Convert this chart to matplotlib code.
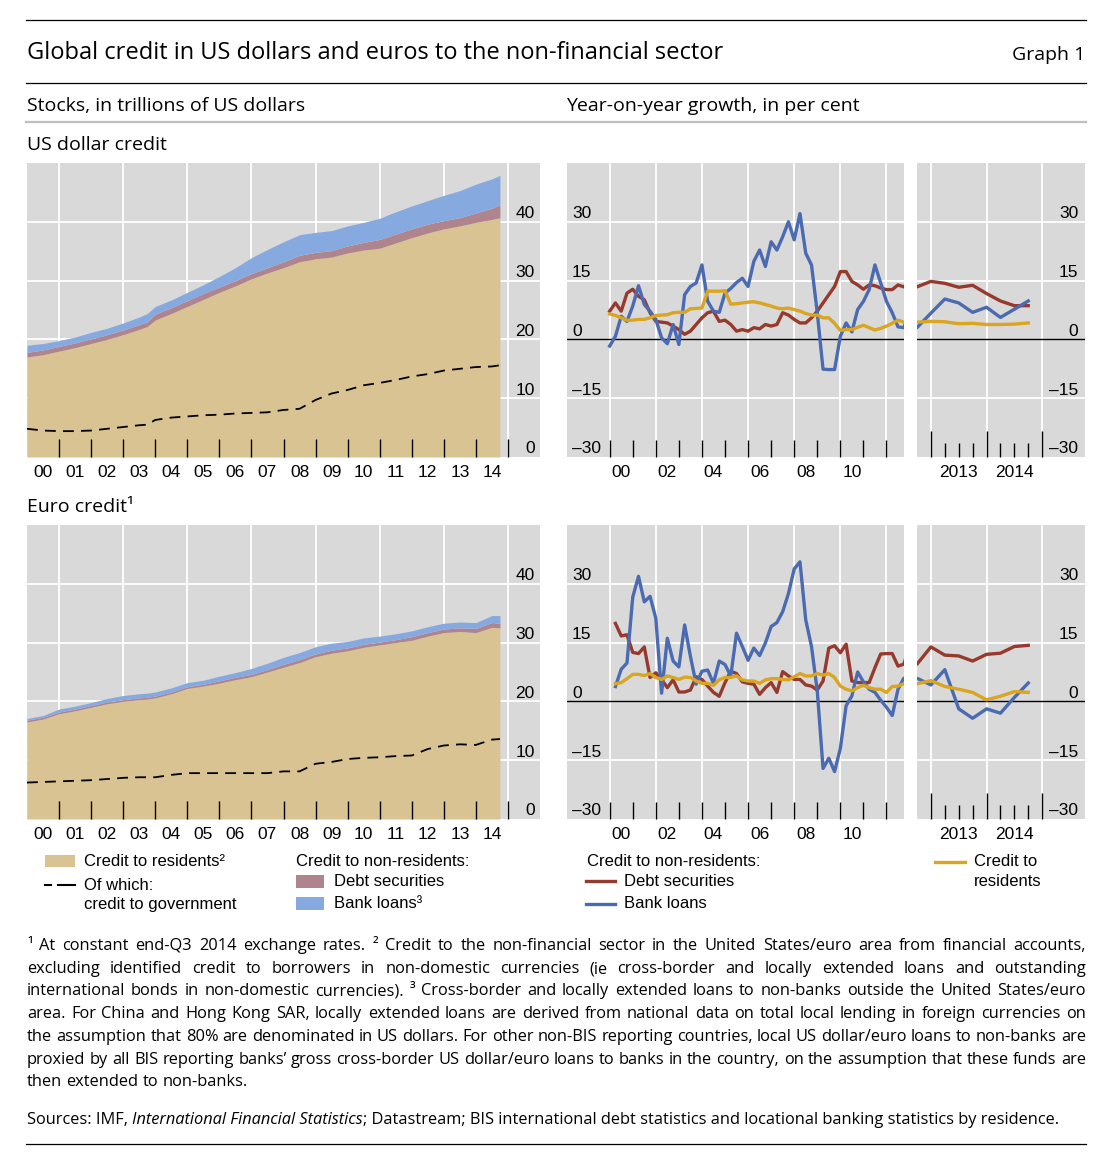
import numpy as np
import matplotlib
matplotlib.use('Agg')
import matplotlib.pyplot as plt

plt.rcParams['font.family'] = ['Liberation Sans', 'DejaVu Sans']

W, H = 1115, 1157

# ---- data: stocks (trillions of USD) ----
stock_x = [2000, 2000.5, 2001, 2001.5, 2002, 2002.5, 2003, 2003.5, 2003.75,
           2004, 2004.5, 2005, 2005.5, 2006, 2006.5, 2007, 2007.5, 2008, 2008.5,
           2009, 2009.5, 2010, 2010.5, 2011, 2011.5, 2012, 2012.5, 2013, 2013.5,
           2014, 2014.5, 2014.75]

usd_residents = [17.0, 17.4, 18.0, 18.6, 19.3, 20.0, 20.8, 21.7, 22.2, 23.3, 24.4,
                 25.6, 26.8, 28.0, 29.1, 30.3, 31.3, 32.2, 33.2, 33.7, 34.0, 34.7,
                 35.2, 35.5, 36.4, 37.3, 38.1, 38.8, 39.3, 39.9, 40.4, 40.7]
usd_debt = [0.8, 0.8, 0.8, 0.8, 0.8, 0.8, 0.8, 0.8, 0.8, 1.0, 1.0, 1.0, 1.0, 0.9,
            0.9, 0.9, 0.9, 1.0, 1.1, 1.1, 1.1, 1.2, 1.3, 1.5, 1.5, 1.5, 1.5, 1.4,
            1.4, 1.6, 1.9, 2.2]
usd_bank = [1.2, 1.1, 1.0, 1.0, 1.1, 1.1, 1.2, 1.3, 1.4, 1.3, 1.3, 1.4, 1.5, 1.8,
            2.2, 2.7, 3.1, 3.4, 3.5, 3.4, 3.4, 3.4, 3.4, 3.6, 3.8, 3.9, 4.0, 4.3,
            4.6, 4.9, 5.0, 5.0]
usd_gov = [4.8, 4.5, 4.4, 4.4, 4.5, 4.8, 5.1, 5.4, 5.5, 6.3, 6.7, 6.9, 7.1, 7.2,
           7.4, 7.5, 7.6, 8.0, 8.2, 9.7, 10.8, 11.4, 12.2, 12.6, 13.1, 13.7, 14.1,
           14.7, 15.0, 15.3, 15.4, 15.6]

eur_residents = [16.5, 17.0, 17.9, 18.4, 19.0, 19.6, 20.0, 20.3, 20.4, 20.6, 21.3,
                 22.2, 22.6, 23.1, 23.7, 24.2, 25.0, 25.8, 26.6, 27.6, 28.2, 28.6,
                 29.2, 29.6, 30.0, 30.4, 31.1, 31.7, 31.9, 31.7, 32.6, 32.5]
eur_debt = [0.3, 0.3, 0.3, 0.3, 0.3, 0.3, 0.3, 0.3, 0.3, 0.3, 0.3, 0.3, 0.3, 0.4,
            0.4, 0.4, 0.4, 0.5, 0.5, 0.5, 0.5, 0.5, 0.5, 0.5, 0.5, 0.6, 0.6, 0.6,
            0.6, 0.7, 0.8, 0.8]
eur_bank = [0.3, 0.3, 0.5, 0.5, 0.5, 0.6, 0.7, 0.7, 0.7, 0.7, 0.7, 0.7, 0.7, 0.8,
            0.8, 1.0, 1.1, 1.2, 1.2, 1.2, 1.2, 1.1, 1.1, 1.0, 1.0, 1.0, 1.0, 1.0,
            1.0, 1.0, 1.2, 1.3]
eur_gov = [6.2, 6.3, 6.4, 6.5, 6.6, 6.8, 7.0, 7.1, 7.1, 7.1, 7.5, 7.8, 7.8, 7.8,
           7.8, 7.8, 7.8, 8.1, 8.1, 9.4, 9.7, 10.2, 10.4, 10.5, 10.7, 10.8, 11.9,
           12.5, 12.7, 12.6, 13.5, 13.6]

# ---- data: year-on-year growth (per cent), quarterly ----
q_usd = np.arange(2000.0, 2014.76, 0.25)
q_eur = q_usd[1:]

usd_growth_debt = [7.2, 9.3, 7.2, 11.8, 12.8, 11.0, 10.1, 6.8, 4.6, 4.4,
                   4.2, 3.4, 2.5, 1.3, 2.1, 3.8, 5.5, 6.8, 7.2, 4.6,
                   4.9, 3.8, 2.1, 2.5, 2.1, 3.0, 2.7, 3.8, 3.4, 3.8,
                   6.8, 6.2, 5.1, 4.2, 4.2, 5.5, 7.2, 9.3, 11.4, 13.5,
                   17.3, 17.3, 14.8, 13.9, 12.8, 13.9, 13.7, 13.1, 12.7, 12.7,
                   13.9, 13.4, 14.8, 14.3, 13.3, 13.8, 11.7, 9.8, 8.6, 8.6]
usd_growth_bank = [-1.7, 0.8, 5.9, 4.6, 8.5, 13.7, 8.9, 7.2, 5.1, 0.4,
                   -1.1, 3.8, -1.3, 11.4, 13.5, 14.4, 19.0, 9.7, 7.2, 6.9,
                   11.8, 13.0, 14.5, 15.6, 13.5, 19.9, 22.8, 18.6, 24.9, 22.8,
                   26.2, 30.0, 25.4, 32.1, 22.0, 19.0, 6.8, -7.6, -7.7, -7.7,
                   0.8, 4.2, 1.9, 7.6, 9.7, 12.7, 19.0, 14.4, 9.7, 6.8,
                   3.2, 3.0, 6.7, 10.3, 9.3, 6.9, 8.2, 5.6, 7.7, 9.8]
usd_growth_res = [6.5, 6.1, 5.5, 4.9, 4.9, 5.1, 5.1, 5.5, 6.1, 6.2,
                  6.3, 6.8, 6.9, 6.9, 7.8, 7.9, 8.0, 12.3, 12.3, 12.3,
                  12.4, 9.0, 9.1, 9.3, 9.5, 9.6, 9.3, 8.9, 8.5, 8.0,
                  7.8, 8.0, 7.6, 7.2, 6.6, 6.2, 6.2, 5.5, 5.5, 4.1,
                  2.3, 2.5, 2.5, 3.1, 3.6, 3.0, 2.4, 2.8, 3.4, 4.1,
                  4.9, 4.4, 4.6, 4.5, 4.0, 4.1, 3.8, 3.8, 3.9, 4.2]

eur_growth_debt = [19.9, 16.7, 17.0, 12.5, 12.2, 13.9, 6.1, 7.3, 5.6, 3.5,
                   5.5, 2.4, 2.4, 2.9, 6.3, 5.6, 3.9, 2.3, 1.3, 4.8,
                   7.7, 7.1, 5.0, 4.6, 4.4, 1.8, 3.5, 4.8, 2.3, 7.6,
                   6.5, 5.6, 5.6, 4.2, 3.9, 2.9, 5.2, 13.6, 14.2, 12.4,
                   14.6, 5.2, 4.8, 4.8, 4.8, 8.6, 12.1, 12.2, 12.2, 9.0,
                   9.5, 13.9, 11.8, 11.6, 10.3, 12.0, 12.3, 14.0, 14.3]
eur_growth_bank = [3.8, 8.2, 9.8, 26.6, 31.9, 25.4, 26.8, 21.2, 2.1, 16.1,
                   10.3, 8.8, 19.5, 11.5, 4.4, 7.7, 8.0, 4.6, 10.3, 9.4,
                   6.5, 17.4, 14.0, 10.5, 13.6, 11.7, 14.9, 19.1, 20.1, 22.9,
                   27.5, 33.8, 35.6, 20.8, 14.0, 2.7, -17.1, -14.5, -17.9, -12.0,
                   -1.1, 1.4, 7.5, 5.0, 3.1, 2.3, 0.3, -1.5, -3.6, 3.1,
                   5.9, 4.2, 8.1, -1.9, -4.3, -1.9, -3.0, 1.0, 4.7]
eur_growth_res = [4.5, 4.8, 5.8, 6.9, 6.9, 6.6, 7.1, 6.1, 5.6, 6.5,
                  6.1, 5.6, 6.2, 6.1, 5.2, 4.6, 4.6, 4.1, 5.5, 6.1,
                  6.1, 6.5, 5.5, 5.2, 5.2, 4.6, 5.5, 5.8, 5.8, 5.6,
                  5.5, 6.3, 7.1, 6.5, 6.5, 7.1, 6.7, 7.1, 6.1, 3.9,
                  3.1, 2.7, 3.5, 4.1, 3.5, 3.1, 3.1, 2.3, 3.8, 3.9,
                  4.5, 5.3, 3.8, 3.1, 2.3, 0.4, 1.3, 2.5, 2.3]

# ---- tick labels ----
stock_year_labels = ['00', '01', '02', '03', '04', '05', '06', '07', '08', '09',
                     '10', '11', '12', '13', '14']
stock_ticks = [0, 10, 20, 30, 40]
growth_year_labels = ['00', '02', '04', '06', '08', '10']
zoom_year_labels = ['', '2013', '', '', '2014', '']
growth_ticks = [-30, -15, 0, 15, 30]
growth_tick_labels = ['\u201330', '\u201315', '0', '15', '30']

GREY = '#D9D9D9'
TAN = '#D9C392'
MAUVE = '#AF848D'
LBLUE = '#86A9DF'
RED = '#963A2D'
BLUE = '#4A6BB1'
GOLD = '#DAA520'
TICK_FS = 12.5

fig = plt.figure(figsize=(W / 100, H / 100), dpi=100)


def px_axes(x0, y0, x1, y1):
    return fig.add_axes([x0 / W, 1 - y1 / H, (x1 - x0) / W, (y1 - y0) / H])


def clean(ax):
    ax.set_facecolor(GREY)
    for s in ax.spines.values():
        s.set_visible(False)
    ax.set_yticks([])


def stock_panel(ax, res, debt, bank, gov):
    clean(ax)
    res = np.array(res)
    top1 = res + np.array(debt)
    top2 = top1 + np.array(bank)
    ax.set_xlim(2000, 2016)
    ax.set_ylim(0, 50)
    for v in [10, 20, 30, 40]:
        ax.axhline(v, color='white', lw=1.3, zorder=0.5)
    for yr in range(2001, 2016, 2):
        ax.axvline(yr, color='white', lw=1.3, zorder=0.5)
    ax.fill_between(stock_x, 0, res, color=TAN, lw=0, zorder=1)
    ax.fill_between(stock_x, res, top1, color=MAUVE, lw=0, zorder=1)
    ax.fill_between(stock_x, top1, top2, color=LBLUE, lw=0, zorder=1)
    ax.plot(stock_x, gov, color='black', lw=1.3, dashes=(6, 4), zorder=3)
    ax.set_xticks(range(2001, 2016))
    ax.set_xticks(np.arange(2000.5, 2015), minor=True)
    ax.set_xticklabels(stock_year_labels, minor=True)
    ax.tick_params(axis='x', which='major', direction='in', length=13, width=1,
                   labelbottom=False)
    ax.tick_params(axis='x', which='minor', length=0, pad=6, labelsize=TICK_FS)
    for v in stock_ticks:
        ax.annotate(str(v), xy=(0.99, v), xycoords=('axes fraction', 'data'),
                    xytext=(0, 0.5), textcoords='offset points',
                    ha='right', va='bottom', fontsize=TICK_FS)


def growth_common(ax):
    clean(ax)
    ax.set_ylim(-30, 45)
    for v in [-15, 15, 30]:
        ax.axhline(v, color='white', lw=1.3, zorder=0.5)
    ax.axhline(0, color='black', lw=1, zorder=2)


def growth_lines(ax, x, red, blue, gold):
    ax.plot(x, red, color=RED, lw=2.4, zorder=3, solid_joinstyle='round')
    ax.plot(x, blue, color=BLUE, lw=2.4, zorder=3, solid_joinstyle='round')
    ax.plot(x, gold, color=GOLD, lw=2.4, zorder=3, solid_joinstyle='round')


def growth_main(ax, x, red, blue, gold):
    growth_common(ax)
    ax.set_xlim(1998.15, 2012.76)
    for yr in range(2000, 2013, 2):
        ax.axvline(yr, color='white', lw=1.3, zorder=0.5)
    growth_lines(ax, x, red, blue, gold)
    ax.set_xticks(range(2000, 2013))
    ax.set_xticks(np.arange(2000.5, 2011, 2), minor=True)
    ax.set_xticklabels(growth_year_labels, minor=True)
    ax.tick_params(axis='x', which='major', direction='in', length=12, width=1,
                   labelbottom=False)
    ax.tick_params(axis='x', which='minor', length=0, pad=6, labelsize=TICK_FS)
    for v, lab in zip(growth_ticks, growth_tick_labels):
        ax.annotate(lab, xy=(0.015, v), xycoords=('axes fraction', 'data'),
                    xytext=(0, 0.5), textcoords='offset points',
                    ha='left', va='bottom', fontsize=TICK_FS)


def growth_zoom(ax, x, red, blue, gold):
    growth_common(ax)
    ax.set_xlim(2012.75, 2015.77)
    for yr in [2013, 2014, 2015]:
        ax.axvline(yr, color='white', lw=1.3, zorder=0.5)
    growth_lines(ax, x, red, blue, gold)
    ax.set_xticks([2013, 2014, 2015])
    ax.set_xticks([2013.25, 2013.5, 2013.75, 2014.25, 2014.5, 2014.75], minor=True)
    ax.set_xticklabels(zoom_year_labels, minor=True)
    ax.tick_params(axis='x', which='major', direction='in', length=19, width=1,
                   labelbottom=False)
    ax.tick_params(axis='x', which='minor', direction='in', length=10, width=1,
                   pad=6, labelsize=TICK_FS)
    for v, lab in zip(growth_ticks, growth_tick_labels):
        ax.annotate(lab, xy=(0.96, v), xycoords=('axes fraction', 'data'),
                    xytext=(0, 0.5), textcoords='offset points',
                    ha='right', va='bottom', fontsize=TICK_FS)


stock_panel(px_axes(27, 163, 540, 457), usd_residents, usd_debt, usd_bank, usd_gov)
stock_panel(px_axes(27, 525, 540, 819), eur_residents, eur_debt, eur_bank, eur_gov)
growth_main(px_axes(567, 163, 904, 457), q_usd, usd_growth_debt, usd_growth_bank, usd_growth_res)
growth_zoom(px_axes(917, 163, 1085, 457), q_usd, usd_growth_debt, usd_growth_bank, usd_growth_res)
growth_main(px_axes(567, 525, 904, 819), q_eur, eur_growth_debt, eur_growth_bank, eur_growth_res)
growth_zoom(px_axes(917, 525, 1085, 819), q_eur, eur_growth_debt, eur_growth_bank, eur_growth_res)

# ---- overlay in pixel coordinates for titles, legends, notes ----
ov = fig.add_axes([0, 0, 1, 1])
ov.set_xlim(0, W)
ov.set_ylim(H, 0)
ov.axis('off')

TF = ['Open Sans', 'DejaVu Sans']
ov.plot([26, 1086], [20, 20], color='black', lw=0.9)
ov.plot([26, 1086], [83, 83], color='black', lw=0.9)
ov.plot([26, 1086], [122, 122], color='#BFBFBF', lw=1.6)
ov.plot([26, 1086], [1144, 1144], color='black', lw=0.9)

ov.text(27, 53, 'Global credit in US dollars and euros to the non-financial sector',
        family=TF, fontsize=17, va='center')
ov.text(1085, 55, 'Graph 1', family=TF, fontsize=14, va='center', ha='right')
ov.text(27, 106, 'Stocks, in trillions of US dollars', family=TF, fontsize=14, va='center')
ov.text(566, 106, 'Year-on-year growth, in per cent', family=TF, fontsize=14, va='center')
ov.text(27, 145, 'US dollar credit', family=TF, fontsize=14, va='center')
ov.text(27, 507, 'Euro credit\u00b9', family=TF, fontsize=14, va='center')

# legends
LS = 12
ov.add_patch(plt.Rectangle((45, 855), 30, 12, color=TAN, lw=0))
ov.text(84, 861, 'Credit to residents\u00b2', fontsize=LS, va='center')
ov.plot([45, 51], [885, 885], color='black', lw=1.5)
ov.plot([58, 75], [885, 885], color='black', lw=1.5)
ov.text(84, 885, 'Of which:', fontsize=LS, va='center')
ov.text(84, 904, 'credit to government', fontsize=LS, va='center')

ov.text(296, 861, 'Credit to non-residents:', fontsize=LS, va='center')
ov.add_patch(plt.Rectangle((296, 875), 28, 13, color=MAUVE, lw=0))
ov.text(334, 881, 'Debt securities', fontsize=LS, va='center')
ov.add_patch(plt.Rectangle((296, 897), 28, 13, color=LBLUE, lw=0))
ov.text(334, 903, 'Bank loans\u00b3', fontsize=LS, va='center')

ov.text(587, 861, 'Credit to non-residents:', fontsize=LS, va='center')
ov.plot([586, 615], [881, 881], color=RED, lw=2.4)
ov.text(624, 881, 'Debt securities', fontsize=LS, va='center')
ov.plot([586, 615], [904, 904], color=BLUE, lw=2.4)
ov.text(624, 904, 'Bank loans', fontsize=LS, va='center')

ov.plot([935, 965], [862, 862], color=GOLD, lw=2.4)
ov.text(974, 862, 'Credit to', fontsize=LS, va='center')
ov.text(974, 882, 'residents', fontsize=LS, va='center')

# footnotes, justified
notes = [
    '\u00b9 At constant end-Q3 2014 exchange rates.  \u00b2 Credit to the non-financial sector in the United States/euro area from financial accounts,',
    'excluding identified credit to borrowers in non-domestic currencies (ie cross-border and locally extended loans and outstanding',
    'international bonds in non-domestic currencies).  \u00b3 Cross-border and locally extended loans to non-banks outside the United States/euro',
    'area. For China and Hong Kong SAR, locally extended loans are derived from national data on total local lending in foreign currencies on',
    'the assumption that 80% are denominated in US dollars. For other non-BIS reporting countries, local US dollar/euro loans to non-banks are',
    'proxied by all BIS reporting banks\u2019 gross cross-border US dollar/euro loans to banks in the country, on the assumption that these funds are',
    'then extended to non-banks.',
]
note_y = [946, 969, 991, 1014, 1037, 1060, 1082]
X0, X1 = 27, 1086
renderer = fig.canvas.get_renderer()


def width_of(s, **kw):
    t = ov.text(0, 0, s, **kw)
    w = t.get_window_extent(renderer).width
    t.remove()
    return w


base = 10.0
longest = max(width_of(n, family=TF, fontsize=base) for n in notes[3:6])
FS = base * (X1 - X0 - 3) / longest
space = width_of('a a', family=TF, fontsize=FS) - width_of('aa', family=TF, fontsize=FS)

for i, (line, y) in enumerate(zip(notes, note_y)):
    words = line.split()
    widths = [width_of(w, family=TF, fontsize=FS) for w in words]
    if i == len(notes) - 1:
        gap = space
    else:
        gap = (X1 - X0 - sum(widths)) / (len(words) - 1)
    x = X0
    for w, wd in zip(words, widths):
        ov.text(x, y, w, family=TF, fontsize=FS, va='center')
        x += wd + gap

parts = [('Sources: IMF, ', 'normal'), ('International Financial Statistics', 'italic'),
         ('; Datastream; BIS international debt statistics and locational banking statistics by residence.', 'normal')]
x = X0
for s, st in parts:
    ov.text(x, 1120, s, family=TF, fontsize=FS, style=st, va='center')
    x += width_of(s, family=TF, fontsize=FS, style=st)

fig.savefig('out.png', dpi=100)
